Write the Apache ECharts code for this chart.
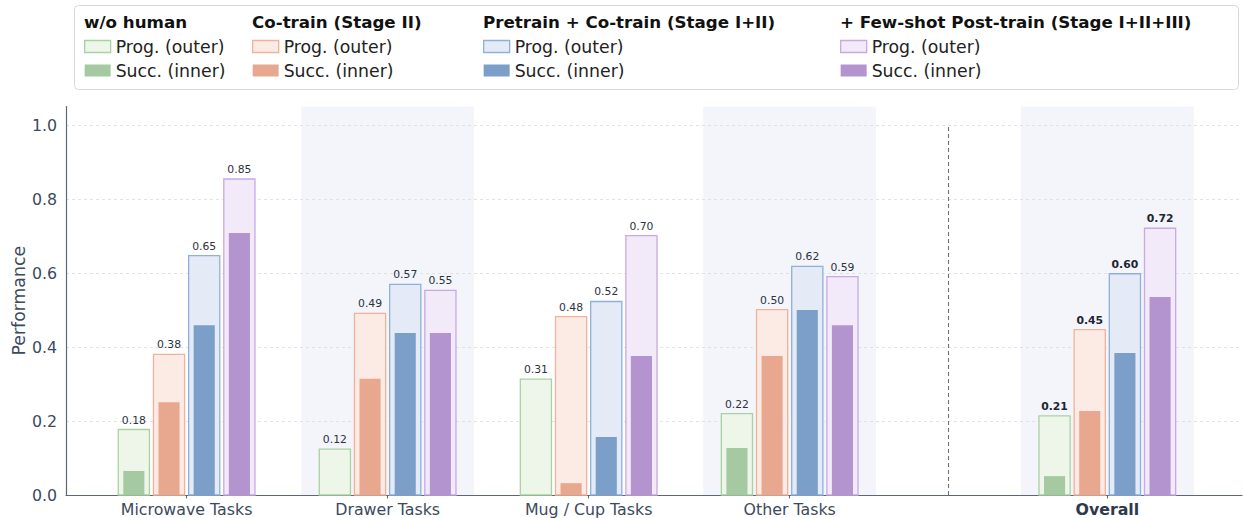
<!DOCTYPE html>
<html><head><meta charset="utf-8">
<script src="https://cdn.jsdelivr.net/npm/echarts@6/dist/echarts.min.js"></script>
<style>html,body{margin:0;padding:0;background:#fff}#c{width:1243px;height:518px}</style>
</head><body><div id="c"></div>
<script>
// ---- data ----
const categories = ['Microwave Tasks', 'Drawer Tasks', 'Mug / Cup Tasks', 'Other Tasks', 'Overall'];
const methods = ['w/o human', 'Co-train (Stage II)', 'Pretrain + Co-train (Stage I+II)', '+ Few-shot Post-train (Stage I+II+III)'];
const progWoHuman  = [0.177, 0.124, 0.313, 0.220, 0.214];
const progCotrain  = [0.380, 0.491, 0.482, 0.501, 0.447];
const progPretrain = [0.647, 0.569, 0.523, 0.618, 0.598];
const progFewshot  = [0.854, 0.553, 0.701, 0.590, 0.721];
const succWoHuman  = [0.065, 0.000, 0.000, 0.127, 0.051];
const succCotrain  = [0.251, 0.314, 0.032, 0.376, 0.227];
const succPretrain = [0.459, 0.438, 0.157, 0.500, 0.384];
const succFewshot  = [0.708, 0.438, 0.376, 0.459, 0.535];
const yTicks = [0, 0.2, 0.4, 0.6, 0.8, 1.0];
const progLabel = 'Prog. (outer)';
const succLabel = 'Succ. (inner)';

// ---- layout / style ----
const FONT = 'DejaVu Sans';
const GROUP_X = [0, 1, 2, 3, 4.58];
const BAND_GROUPS = [1, 3, 4];
const DIVIDER_X = (GROUP_X[3] + GROUP_X[4]) / 2;
const BAR_STEP = 0.175, OUTER_W = 0.155, INNER_W = 0.105, BAND_HALF = 0.43;
const LEGEND_COL_X = [84, 252, 483, 840];
const COLORS = [
  {fill: '#eef6ea', border: '#a9d2a3', inner: '#a5c9a1'},
  {fill: '#fbebe4', border: '#f0b29b', inner: '#e8a88f'},
  {fill: '#e4ebf6', border: '#8fb0da', inner: '#7b9fc8'},
  {fill: '#f2eaf8', border: '#c9a9e3', inner: '#b394ce'}
];
const AXIS_COLOR = '#5d6776';
const TEXT_COLOR = '#3b4a5e';

const progs = [progWoHuman, progCotrain, progPretrain, progFewshot];
const succs = [succWoHuman, succCotrain, succPretrain, succFewshot];

function outerRender(m) {
  return function (params, api) {
    const x = api.value(0), v = api.value(1);
    const cx = x + (m - 1.5) * BAR_STEP;
    const p0 = api.coord([cx - OUTER_W / 2, v]);
    const p1 = api.coord([cx + OUTER_W / 2, 0]);
    const bold = params.dataIndex === categories.length - 1;
    return {type: 'group', children: [
      {type: 'rect', shape: {x: p0[0], y: p0[1], width: p1[0] - p0[0], height: p1[1] - p0[1]},
       style: {fill: COLORS[m].fill, stroke: COLORS[m].border, lineWidth: 1.3}},
      {type: 'text', x: (p0[0] + p1[0]) / 2, y: p0[1] - 4,
       style: {text: v.toFixed(2), align: 'center', verticalAlign: 'bottom', fontSize: 10.8,
               fontWeight: bold ? 'bold' : 'normal', fill: bold ? '#1e2533' : '#2b3240', fontFamily: FONT}}
    ]};
  };
}
function innerRender(m) {
  return function (params, api) {
    const x = api.value(0), v = api.value(1);
    const cx = x + (m - 1.5) * BAR_STEP;
    const p0 = api.coord([cx - INNER_W / 2, v]);
    const p1 = api.coord([cx + INNER_W / 2, 0]);
    return {type: 'rect', shape: {x: p0[0], y: p0[1], width: p1[0] - p0[0], height: p1[1] - p0[1]},
            style: {fill: COLORS[m].inner}};
  };
}

const series = [];
series.push({
  type: 'custom', name: 'bands', silent: true, z: -1,
  data: BAND_GROUPS.map(i => [GROUP_X[i], 0]),
  renderItem: function (params, api) {
    const x = api.value(0);
    const a = api.coord([x - BAND_HALF, 0]);
    const b = api.coord([x + BAND_HALF, 0]);
    const top = params.coordSys.y;
    return {type: 'rect', shape: {x: a[0], y: top, width: b[0] - a[0], height: a[1] - top},
            style: {fill: '#f3f5fa'}};
  }
});
series.push({
  type: 'custom', name: 'divider', silent: true, z: 1,
  data: [[DIVIDER_X, 1.0]],
  renderItem: function (params, api) {
    const a = api.coord([api.value(0), 0]);
    const b = api.coord([api.value(0), api.value(1)]);
    return {type: 'line', shape: {x1: a[0], y1: a[1], x2: b[0], y2: b[1]},
            style: {stroke: '#6b7280', lineWidth: 1.1, lineDash: [4, 3]}};
  }
});
methods.forEach((m, k) => {
  series.push({type: 'custom', name: m + '|' + progLabel, z: 2,
    itemStyle: {color: COLORS[k].fill},
    data: progs[k].map((v, i) => [GROUP_X[i], v]), renderItem: outerRender(k)});
  series.push({type: 'custom', name: m + '|' + succLabel, z: 3,
    itemStyle: {color: COLORS[k].inner},
    data: succs[k].map((v, i) => [GROUP_X[i], v]), renderItem: innerRender(k)});
});

const option = {
  animation: false,
  textStyle: {fontFamily: FONT},
  graphic: [{type: 'rect', z: -10, shape: {x: 74.5, y: 5.5, width: 1164, height: 84, r: 4},
             style: {fill: '#ffffff', stroke: '#d4d8df', lineWidth: 1}}],
  title: methods.map((m, k) => ({
    text: m, left: LEGEND_COL_X[k], top: 13.5, padding: 0,
    textStyle: {fontSize: 16.7, fontWeight: 'bold', color: '#111111', fontFamily: FONT}
  })),
  legend: methods.map((m, k) => ({
    left: LEGEND_COL_X[k], top: 36.5, orient: 'vertical', padding: 0, itemGap: 4,
    itemWidth: 26, itemHeight: 12, selectedMode: false,
    data: [
      {name: m + '|' + progLabel, icon: 'rect', itemStyle: {color: COLORS[k].fill, borderColor: COLORS[k].border, borderWidth: 1.3}},
      {name: m + '|' + succLabel, icon: 'rect', itemStyle: {color: COLORS[k].inner, borderWidth: 0}}
    ],
    formatter: n => n.split('|')[1],
    textStyle: {fontSize: 17.3, color: '#222222', lineHeight: 20, fontFamily: FONT}
  })),
  grid: {left: 66, right: 1, top: 106.5, bottom: 23, containLabel: false, outerBoundsMode: 'none'},
  xAxis: {
    type: 'value', min: -0.6, max: 5.25,
    splitLine: {show: false},
    axisLine: {onZero: false, lineStyle: {color: AXIS_COLOR, width: 1.2}},
    axisTick: {customValues: GROUP_X, length: 3.5, lineStyle: {color: AXIS_COLOR, width: 1}},
    axisLabel: {
      customValues: GROUP_X, margin: 6, fontSize: 15.8, color: TEXT_COLOR, fontFamily: FONT,
      formatter: function (v) {
        const i = GROUP_X.findIndex(g => Math.abs(g - v) < 1e-6);
        if (i < 0) return '';
        return i === categories.length - 1 ? '{b|' + categories[i] + '}' : categories[i];
      },
      rich: {b: {fontWeight: 'bold', fontSize: 15.8, color: '#2d3a4e', fontFamily: FONT}}
    }
  },
  yAxis: {
    type: 'value', min: 0, max: 1.05, interval: 0.2,
    name: 'Performance', nameLocation: 'middle', nameGap: 39, nameMoveOverlap: false,
    nameTextStyle: {fontSize: 17.3, color: TEXT_COLOR, fontFamily: FONT},
    axisLine: {show: true, onZero: false, lineStyle: {color: AXIS_COLOR, width: 1.2}},
    axisTick: {show: false},
    axisLabel: {customValues: yTicks, formatter: v => v.toFixed(1), margin: 9, fontSize: 15.8, color: TEXT_COLOR, fontFamily: FONT},
    splitLine: {show: true, showMaxLine: false, lineStyle: {type: [3, 3], color: '#dcdcdc', width: 0.8}}
  },
  series: series
};
const chart = echarts.init(document.getElementById('c'), null, {renderer: 'svg'});
chart.setOption(option);
</script>
</body></html>
